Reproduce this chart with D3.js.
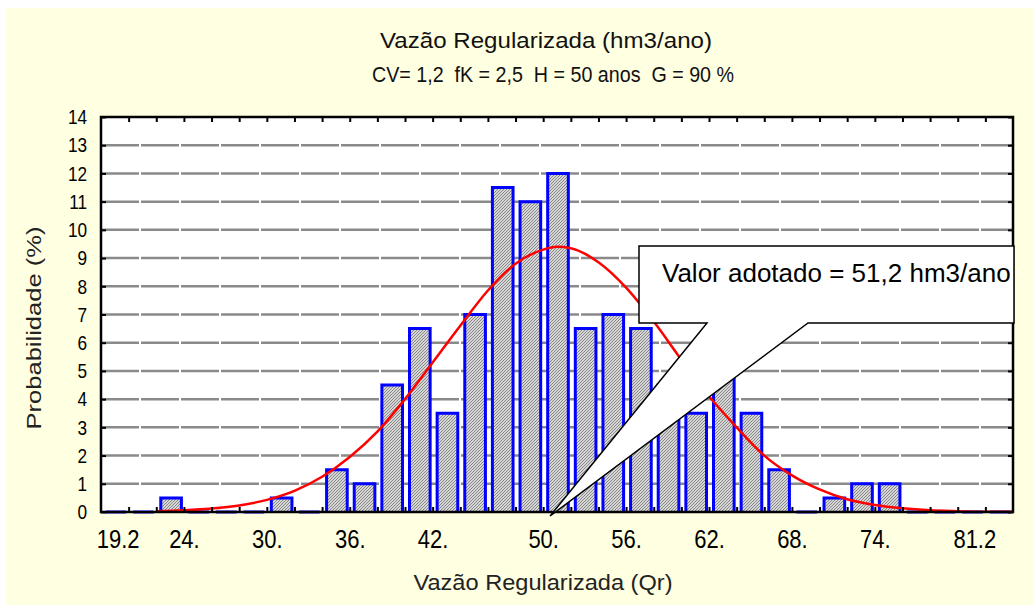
<!DOCTYPE html>
<html>
<head>
<meta charset="utf-8">
<script src="https://cdn.jsdelivr.net/npm/d3@7/dist/d3.min.js"></script>
<style>
  body { margin: 0; background: #fff; }
  text { font-family: "Liberation Sans", Arial, sans-serif; white-space: pre; }
</style>
</head>
<body>
<svg id="chart"></svg>
<script>
const width = 1034;
const height = 605;
const margin = {top: 117, right: 21, bottom: 93, left: 101};

// histogram: bins of 2 hm3/ano starting at 18
const binStart = 18;
const binWidth = 2;
const probabilities = [0, 0, 0.5, 0, 0, 0, 0.5, 0, 1.5, 1.0, 4.5, 6.5, 3.5, 7.0, 11.5, 11.0,
    12.0, 6.5, 7.0, 6.5, 4.5, 3.5, 5.0, 3.5, 1.5, 0, 0.5, 1.0, 1.0, 0, 0, 0, 0];

// fitted curve
const curveQ = [22, 24, 26, 28, 30, 32, 34, 36, 38, 40, 42, 44, 46, 48, 50, 51, 52, 54, 56, 58,
    60, 62, 64, 66, 68, 70, 72, 74, 76, 78, 80, 82, 84];
const curveP = [0.03, 0.06, 0.12, 0.23, 0.43, 0.75, 1.25, 1.95, 2.85, 4.0, 5.3, 6.6, 7.85, 8.8,
    9.3, 9.4, 9.35, 8.85, 7.95, 6.75, 5.4, 4.1, 3.0, 2.0, 1.3, 0.8, 0.45, 0.25, 0.13, 0.06, 0.03, 0.01, 0.005];

const yTicks = d3.range(0, 15);
const xTickValues = [19.2, 24, 30, 36, 42, 50, 56, 62, 68, 74, 81.2];
const xTickLabels = ['19.2', '24.', '30.', '36.', '42.', '50.', '56.', '62.', '68.', '74.', '81.2'];

const title1 = 'Vazão Regularizada (hm3/ano)';
const title2 = 'CV= 1,2  fK = 2,5  H = 50 anos  G = 90 %';
const xTitle = 'Vazão Regularizada (Qr)';
const yTitle = 'Probabilidade (%)';
const calloutText = 'Valor adotado = 51,2 hm3/ano';
const calloutTip = 50.5;

const binEdges = d3.range(binStart, binStart + binWidth * (probabilities.length + 1), binWidth);
const bins = probabilities.map((p, i) => ({x0: binEdges[i], x1: binEdges[i + 1], p: p}));

const svg = d3.select('#chart').attr('width', width).attr('height', height);

const x = d3.scaleLinear()
    .domain([binEdges[0], binEdges[binEdges.length - 1]])
    .range([margin.left, width - margin.right]);
const y = d3.scaleLinear()
    .domain([0, 14])
    .range([height - margin.bottom, margin.top]);

const defs = svg.append('defs');
const pat = defs.append('pattern')
    .attr('id', 'hatch')
    .attr('patternUnits', 'userSpaceOnUse')
    .attr('width', 3).attr('height', 3);
pat.append('rect').attr('width', 3).attr('height', 3).attr('fill', '#d6d6d6');
pat.append('path').attr('d', 'M0,3 L3,0 M-1,1 L1,-1 M2,4 L4,2')
    .attr('stroke', '#888').attr('stroke-width', 1);

// background
svg.append('rect').attr('x', 6).attr('y', 8)
    .attr('width', width - 6).attr('height', height - 8)
    .attr('fill', '#ffffe1');

// plot area
svg.append('rect')
    .attr('x', x.range()[0]).attr('y', y.range()[1])
    .attr('width', x.range()[1] - x.range()[0])
    .attr('height', y.range()[0] - y.range()[1])
    .attr('fill', '#fff');

// grid
svg.append('g').selectAll('line').data(yTicks.slice(1, -1))
    .enter().append('line')
    .attr('x1', x.range()[0]).attr('x2', x.range()[1])
    .attr('y1', d => y(d)).attr('y2', d => y(d))
    .attr('stroke', '#8a8a8a')
    .attr('stroke-width', 2.5)
    .attr('stroke-dasharray', '38,2');

// bars (open at the bottom so empty bins show as a blue line)
svg.append('g').selectAll('path').data(bins)
    .enter().append('path')
    .attr('d', d => {
        const a = x(d.x0) + 4.5;
        const b = x(d.x1) - 2.5;
        return `M${a},${y(0)} V${y(d.p)} H${b} V${y(0)}`;
    })
    .attr('fill', 'url(#hatch)')
    .attr('stroke', '#0000ff')
    .attr('stroke-width', 3);

// fitted curve
svg.append('path')
    .datum(curveQ.map((q, i) => [q, curveP[i]]))
    .attr('fill', 'none')
    .attr('stroke', '#ff0000')
    .attr('stroke-width', 2.5)
    .attr('d', d3.line().x(d => x(d[0])).y(d => y(d[1])).curve(d3.curveMonotoneX));

// axes: inner ticks on all four sides
const axBottom = svg.append('g').attr('transform', `translate(0,${y(0)})`)
    .call(d3.axisBottom(x).tickValues(binEdges.slice(1, -1)).tickSize(-5).tickFormat(''));
const axTop = svg.append('g').attr('transform', `translate(0,${y(14)})`)
    .call(d3.axisTop(x).tickValues(binEdges.slice(1, -1)).tickSize(-5).tickFormat(''));
const axLeft = svg.append('g').attr('transform', `translate(${x.range()[0]},0)`)
    .call(d3.axisLeft(y).tickValues(yTicks).tickSize(-5).tickPadding(17));
const axRight = svg.append('g').attr('transform', `translate(${x.range()[1]},0)`)
    .call(d3.axisRight(y).tickValues(yTicks).tickSize(-5).tickFormat(''));
const xLabels = svg.append('g').attr('transform', `translate(0,${y(0)})`)
    .call(d3.axisBottom(x).tickValues(xTickValues).tickSize(0).tickPadding(18)
        .tickFormat((d, i) => xTickLabels[i]));

[axBottom, axTop, axLeft, axRight, xLabels].forEach(g => {
    g.select('.domain').remove();
    g.selectAll('line').attr('stroke', '#000').attr('stroke-width', 2);
});
axLeft.selectAll('text').attr('font-size', 21).attr('fill', '#000')
    .attr('font-family', '"Liberation Sans", Arial, sans-serif')
    .attr('transform', 'scale(0.82,1)');
xLabels.selectAll('text').attr('font-size', 25).attr('fill', '#000')
    .attr('font-family', '"Liberation Sans", Arial, sans-serif')
    .attr('transform', 'scale(0.88,1)');

// frame
svg.append('rect')
    .attr('x', x.range()[0]).attr('y', y.range()[1])
    .attr('width', x.range()[1] - x.range()[0])
    .attr('height', y.range()[0] - y.range()[1])
    .attr('fill', 'none')
    .attr('stroke', '#000')
    .attr('stroke-width', 2.5);

// titles
svg.append('text').attr('x', 546).attr('y', 48).attr('text-anchor', 'middle')
    .attr('font-size', 22).attr('fill', '#111')
    .attr('textLength', 332).attr('lengthAdjust', 'spacingAndGlyphs')
    .text(title1);
svg.append('text').attr('x', 553).attr('y', 82).attr('text-anchor', 'middle')
    .attr('font-size', 22).attr('fill', '#111')
    .attr('textLength', 362).attr('lengthAdjust', 'spacingAndGlyphs')
    .text(title2);
svg.append('text').attr('x', 543).attr('y', 590).attr('text-anchor', 'middle')
    .attr('font-size', 22).attr('fill', '#222')
    .attr('textLength', 259).attr('lengthAdjust', 'spacingAndGlyphs')
    .text(xTitle);
svg.append('text').attr('transform', 'translate(41,328) rotate(-90)').attr('text-anchor', 'middle')
    .attr('font-size', 20).attr('fill', '#222')
    .attr('textLength', 203).attr('lengthAdjust', 'spacingAndGlyphs')
    .text(yTitle);

// callout
const bx0 = 639, bx1 = x.range()[1] + 1, by0 = 246, by1 = 323;
const tipX = x(calloutTip), tipY = y(0) + 4;
svg.append('path')
    .attr('d', `M${bx0},${by0} H${bx1} V${by1} H808 L${tipX},${tipY} L707,${by1} H${bx0} Z`)
    .attr('fill', '#fff')
    .attr('stroke', '#000')
    .attr('stroke-width', 1.5);
svg.append('text').attr('x', 662).attr('y', 282)
    .attr('font-family', '"Liberation Sans", Arial, sans-serif')
    .attr('font-size', 26).attr('fill', '#000')
    .text(calloutText);
</script>
</body>
</html>
